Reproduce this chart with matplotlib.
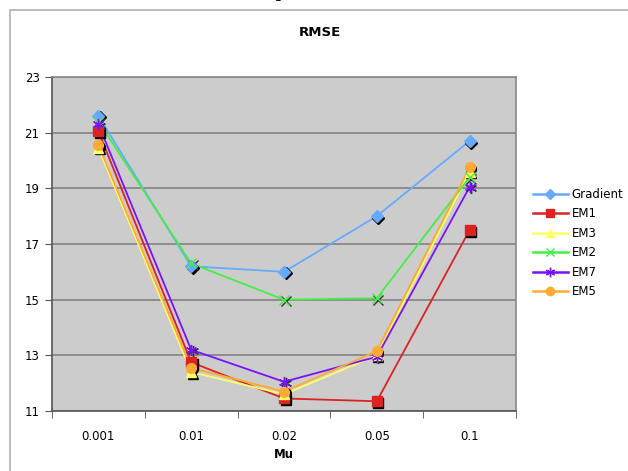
import matplotlib
matplotlib.use('Agg')
import matplotlib.pyplot as plt
import matplotlib.transforms as mtransforms
from matplotlib.patches import Rectangle

# --- data ---------------------------------------------------------------
mu_labels = ["0.001", "0.01", "0.02", "0.05", "0.1"]
gradient = [21.6, 16.2, 16.0, 18.0, 20.7]
em1 = [21.05, 12.75, 11.45, 11.35, 17.5]
em3 = [20.45, 12.4, 11.6, 13.0, 19.6]
em2 = [21.4, 16.3, 15.0, 15.05, 19.4]
em7 = [21.3, 13.2, 12.05, 12.95, 19.05]
em5 = [20.55, 12.55, 11.7, 13.15, 19.75]

series = [
    ("Gradient", gradient, "#66aaff", "D", 6),
    ("EM1", em1, "#dd2222", "s", 7),
    ("EM3", em3, "#ffff66", "^", 6.5),
    ("EM2", em2, "#44ee44", "x", 7),
    ("EM7", em7, "#7711ff", (6, 2, 0), 8),
    ("EM5", em5, "#ffaa33", "o", 7),
]

fig = plt.figure(figsize=(6.28, 4.71), dpi=100)
fig.patch.set_facecolor('white')

# outer chart border (Excel style)
fig.add_artist(Rectangle((10 / 628, -0.1), 1.0, 1 - 10 / 471 + 0.1,
                         transform=fig.transFigure, fill=False,
                         edgecolor='#b0b0b0', linewidth=1.2))
# cut-off caption letter at the very top
fig.text(278 / 628, 1 + 2 / 471, "g", ha='center', va='baseline', fontsize=11)

ax = fig.add_axes([52 / 628, 1 - 411 / 471, 464 / 628, 334 / 471])
ax.set_facecolor('#cccccc')

x = list(range(len(mu_labels)))
shadow = mtransforms.offset_copy(ax.transData, fig=fig, x=1.5, y=-1.5, units='dots')

for name, vals, col, mk, ms in series:
    ax.plot(x, vals, color=col, linewidth=1.3, zorder=3)
    if mk != "x" and mk != (6, 2, 0):
        ax.plot(x, vals, linestyle='none', marker=mk, markersize=ms,
                color='black', markeredgecolor='black', transform=shadow, zorder=4)
    else:
        ax.plot(x, vals, linestyle='none', marker=mk, markersize=ms,
                color='#333333', markeredgewidth=1.0, transform=shadow, zorder=4)
    ax.plot(x, vals, linestyle='none', marker=mk, markersize=ms,
            color=col, markeredgecolor=col, markeredgewidth=1.0, zorder=5)

# legend proxies
handles = []
for name, vals, col, mk, ms in series:
    h, = ax.plot([], [], color=col, linewidth=1.8, marker=mk, markersize=ms * 0.85,
                 markeredgecolor=col, label=name)
    handles.append(h)

ax.set_xlim(-0.5, 4.5)
ax.set_ylim(11, 23)
ax.set_yticks([11, 13, 15, 17, 19, 21, 23])
ax.set_xticks(x)
ax.set_xticklabels(mu_labels)
ax.set_xticks([i - 0.5 for i in range(6)], minor=True)
ax.tick_params(axis='x', which='major', length=0, pad=14, labelsize=8.5)
ax.tick_params(axis='x', which='minor', length=5, direction='out', color='#555555')
ax.tick_params(axis='y', length=5, direction='out', color='#555555', labelsize=8.5, pad=4)
ax.grid(axis='y', color='#888888', linewidth=1.3)
ax.set_axisbelow(True)
for s in ax.spines.values():
    s.set_color('#888888')
    s.set_linewidth(1.2)
ax.spines['left'].set_color('#555555')
ax.spines['bottom'].set_color('#555555')

ax.set_xlabel("Mu", fontsize=8.5, fontweight='bold', labelpad=3)
fig.text(320 / 628, 1 - 33 / 471, "RMSE", ha='center', va='center',
         fontsize=9.5, fontweight='bold')

fig.legend(handles=handles, loc='center left', bbox_to_anchor=(528 / 628, 1 - 243 / 471),
           frameon=False, fontsize=8.5, handlelength=3.0, handletextpad=0.3,
           labelspacing=0.55, borderaxespad=0)

fig.savefig("out.png", dpi=100)
